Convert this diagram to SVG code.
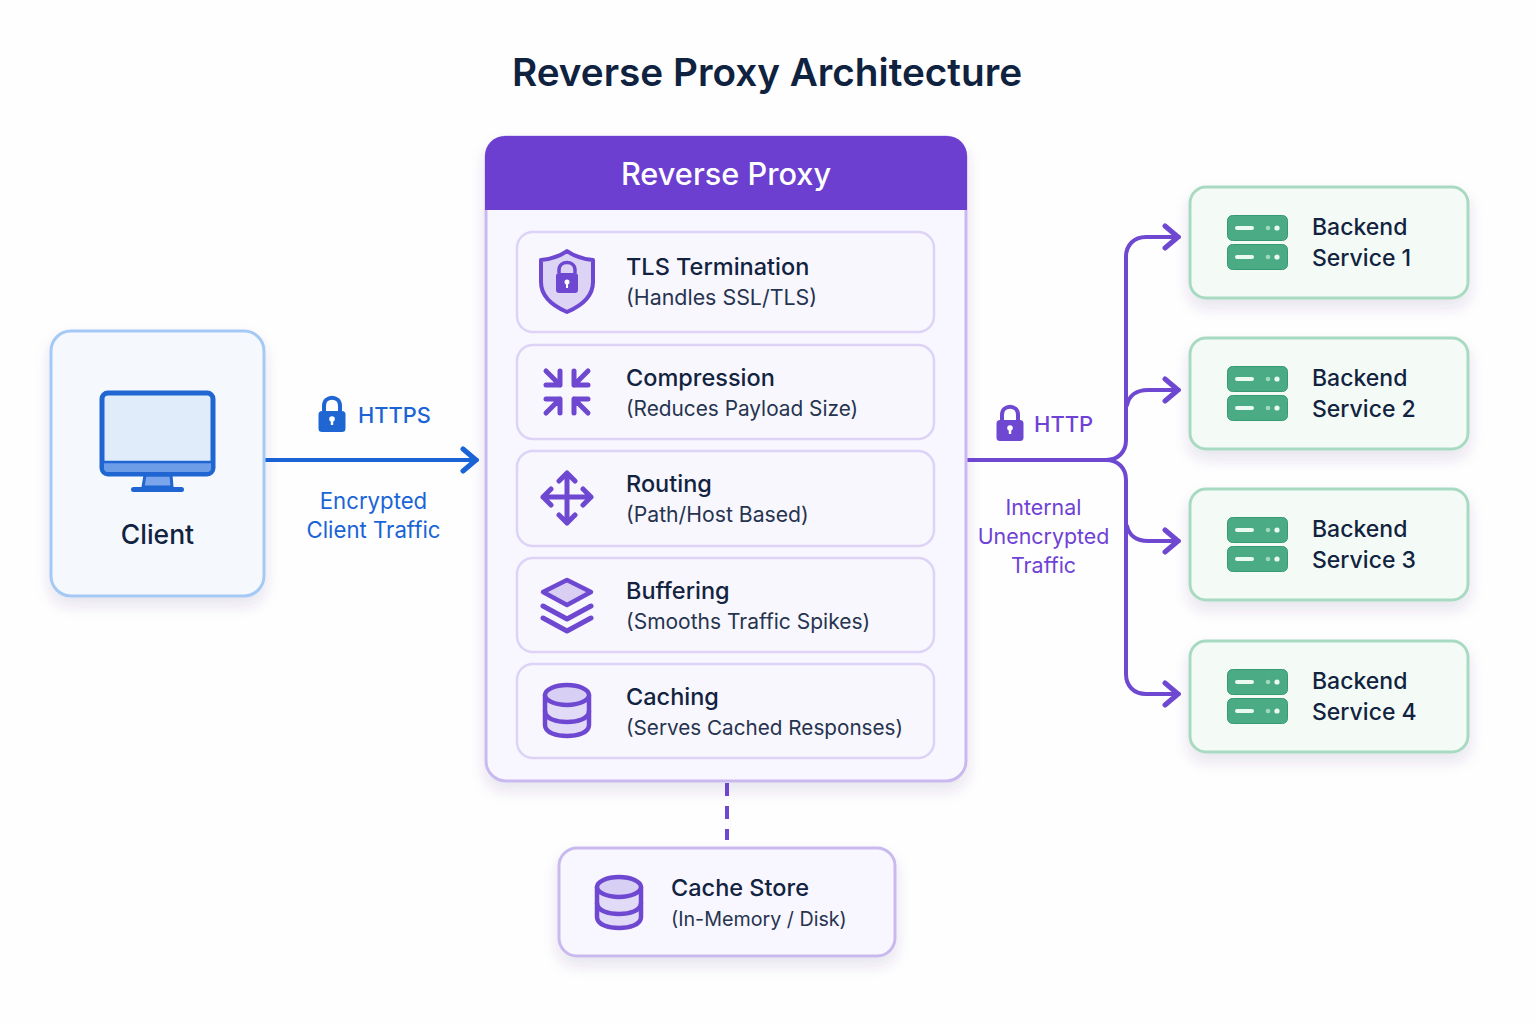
<svg xmlns="http://www.w3.org/2000/svg" width="1536" height="1024" viewBox="0 0 1536 1024">
<style>
text{font-family:Inter,"Noto Sans","Liberation Sans",sans-serif}
.title{font-size:38.7px;font-weight:600;fill:#0f2240}
.head{font-size:30.7px;font-weight:500;fill:#fff}
.t1{font-size:23.5px;font-weight:500;fill:#12233f}
.t3{font-size:23px;font-weight:500;fill:#12233f}
.t2{font-size:21px;font-weight:400;fill:#26344f}
.blue{font-size:21.8px;font-weight:500;fill:#1a64d6}
.bluel{font-size:22.2px;font-weight:400;fill:#1a64d6}
.purp{font-size:21.4px;font-weight:400;fill:#6f42d6}
.row{fill:#f9f7fe;stroke:#ddd3f6;stroke-width:2.5}
.be{fill:#f4fbf7;stroke:#a8dac1;stroke-width:3}
.ic{fill:none;stroke:#6f48d2;stroke-width:5;stroke-linecap:round;stroke-linejoin:round}
.icf{fill:#d9cff3;stroke:#6f48d2;stroke-width:5;stroke-linejoin:round}
.conn{fill:none;stroke-width:4;stroke-linecap:round;stroke-linejoin:round}
</style>
<defs>
<filter id="sh" x="-30%" y="-30%" width="160%" height="160%"><feDropShadow dx="0" dy="8" stdDeviation="7" flood-color="#4a3a80" flood-opacity="0.13"/></filter>
<g id="server">
<rect x="0.500" y="0.500" width="60" height="25" rx="5" fill="#4aab85" stroke="#379a72"/>
<rect x="0.500" y="29.500" width="60" height="25" rx="5" fill="#4aab85" stroke="#379a72"/>
<rect x="8" y="11" width="19" height="4" rx="2" fill="#eafaf2"/>
<rect x="8" y="40" width="19" height="4" rx="2" fill="#eafaf2"/>
<circle cx="41" cy="13" r="2.300" fill="#9fd8bd"/><circle cx="50" cy="13" r="2.600" fill="#eafaf2"/>
<circle cx="41" cy="42" r="2.300" fill="#9fd8bd"/><circle cx="50" cy="42" r="2.600" fill="#eafaf2"/>
</g>
<g id="db">
<path d="M-22-15V15C-22 23-10 26 0 26S22 23 22 15V-15Z" fill="#e2dbf7"/>
<path class="ic" d="M-22-15V15C-22 23-10 26 0 26S22 23 22 15V-15" style="stroke-width:4.500"/>
<path class="ic" d="M-22 1C-22 9-10 12 0 12S22 9 22 1" style="stroke-width:4.500"/>
<ellipse cx="0" cy="-15" rx="22" ry="10" fill="#d8cff4" stroke="#6f48d2" stroke-width="4.500"/>
</g>
<g id="lock">
<path d="M-8-3V-9C-8-20 8-20 8-9V-3" fill="none" stroke-width="4"/>
<rect x="-13.500" y="-4" width="27" height="21" rx="3.500" stroke="none"/>
<circle cx="0" cy="4" r="2.800" fill="#fff" stroke="none"/><rect x="-1.200" y="4" width="2.400" height="6" fill="#fff" stroke="none"/>
</g>
<marker id="ap" viewBox="0 0 20 28" refX="18" refY="14" markerWidth="20" markerHeight="28" markerUnits="userSpaceOnUse" orient="auto"><path d="M4 3L17 14L4 25" fill="none" stroke="#6f48d2" stroke-width="5" stroke-linecap="round" stroke-linejoin="round"/></marker>
<marker id="ab" viewBox="0 0 20 28" refX="18" refY="14" markerWidth="20" markerHeight="28" markerUnits="userSpaceOnUse" orient="auto"><path d="M4 3L17 14L4 25" fill="none" stroke="#1a64d6" stroke-width="5" stroke-linecap="round" stroke-linejoin="round"/></marker>
</defs>
<rect width="1536" height="1024" fill="#fefefe"/>
<text class="title" x="767" y="86" text-anchor="middle">Reverse Proxy Architecture</text>

<g id="connectors">
<path class="conn" stroke="#1a64d6" marker-end="url(#ab)" d="M266 460H477"/>
<path class="conn" stroke="#6f48d2" marker-end="url(#ap)" d="M968 460H1106C1118 460 1126 452 1126 440V257C1126 245 1134 237 1146 237H1179"/>
<path class="conn" stroke="#6f48d2" marker-end="url(#ap)" d="M1127 405C1129 396 1136 390 1148 390H1179"/>
<path class="conn" stroke="#6f48d2" marker-end="url(#ap)" d="M1106 460C1118 460 1126 468 1126 480V674C1126 686 1134 694 1146 694H1179"/>
<path class="conn" stroke="#6f48d2" marker-end="url(#ap)" d="M1127 526C1129 535 1136 541 1148 541H1179"/>
<path fill="none" stroke="#6f48d2" stroke-width="4" stroke-dasharray="13 10" d="M727 783V840"/>
</g>

<g id="client">
<rect x="51" y="331" width="213" height="265" rx="20" fill="#f5f9fe" stroke="#a5c9f5" stroke-width="3" filter="url(#sh)"/>
<path d="M145 475H171L172 487H143Z" fill="#7aa5ea" stroke="#1f66d2" stroke-width="3"/>
<rect x="131" y="487" width="53" height="5" rx="2.500" fill="#1f66d2"/>
<rect x="102" y="393" width="111" height="81" rx="6" fill="#e1ecfb" stroke="#1f66d2" stroke-width="5"/>
<path d="M104 463H211V468Q211 472 207 472H108Q104 472 104 468Z" fill="#6c9de6"/>
<path d="M102 462H213" stroke="#1f66d2" stroke-width="2.500"/>
<text class="t1" x="157.500" y="544" style="font-size:26.500px" text-anchor="middle">Client</text>
</g>

<g id="https-label">
<use href="#lock" transform="translate(332 415)" fill="#1f66d2" stroke="#1f66d2"/>
<text class="blue" x="358" y="423">HTTPS</text>
<text class="bluel" x="373.500" y="509" text-anchor="middle">Encrypted</text>
<text class="bluel" x="373.500" y="538" text-anchor="middle">Client Traffic</text>
</g>

<g id="http-label">
<use href="#lock" transform="translate(1010 424)" fill="#6f48d2" stroke="#6f48d2"/>
<text class="purp" x="1034" y="432" style="font-weight:500;font-size:22px">HTTP</text>
<text class="purp" x="1043.500" y="515" text-anchor="middle">Internal</text>
<text class="purp" x="1043.500" y="544" text-anchor="middle">Unencrypted</text>
<text class="purp" x="1043.500" y="573" text-anchor="middle">Traffic</text>
</g>

<g id="reverse-proxy">
<rect x="486" y="137" width="480" height="644" rx="20" fill="#f8f6fe" stroke="#c9b9ef" stroke-width="3" filter="url(#sh)"/>
<path d="M485 210V156A20 20 0 0 1 505 136H947A20 20 0 0 1 967 156V210Z" fill="#6c3fd0"/>
<text class="head" x="726" y="185" text-anchor="middle">Reverse Proxy</text>
</g>

<g id="tls-termination">
<rect class="row" x="517" y="232" width="417" height="100" rx="16"/>
<path d="M567 251C575 257 583 259 593 260V282C593 296 581 306 567 312C553 306 541 296 541 282V260C551 259 559 257 567 251Z" fill="#dcd3f5" stroke="#6f48d2" stroke-width="4" stroke-linejoin="round"/>
<path d="M559 273V270C559 260 575 260 575 270V273" fill="none" stroke="#6f48d2" stroke-width="3.500"/>
<rect x="556" y="273" width="22" height="20" rx="3" fill="#6f48d2"/>
<circle cx="567" cy="282" r="2.500" fill="#fff"/><rect x="566" y="282" width="2" height="6" fill="#fff"/>
<text class="t1" x="626" y="275">TLS Termination</text>
<text class="t2" x="626" y="305" style="font-size:21.400px">(Handles SSL/TLS)</text>
</g>

<g id="compression">
<rect class="row" x="517" y="345" width="417" height="94" rx="16"/>
<path class="ic" d="M546 371L560 385M546 385H560V371M588 371L574 385M588 385H574V371M546 413L560 399M546 399H560V413M588 413L574 399M588 399H574V413" style="stroke-width:5"/>
<text class="t1" x="626" y="386">Compression</text>
<text class="t2" x="626" y="416" style="font-size:20.800px">(Reduces Payload Size)</text>
</g>

<g id="routing">
<rect class="row" x="517" y="451" width="417" height="95" rx="16"/>
<path class="ic" d="M543 497H591M567 473V523M559 481L567 473L575 481M559 515L567 523L575 515M551 489L543 497L551 505M583 489L591 497L583 505"/>
<text class="t1" x="626" y="492">Routing</text>
<text class="t2" x="626" y="522" style="font-size:21.200px">(Path/Host Based)</text>
</g>

<g id="buffering">
<rect class="row" x="517" y="558" width="417" height="94" rx="16"/>
<path class="icf" d="M567 580L591 592L567 605L543 592Z" style="stroke-width:4.500"/>
<path class="ic" d="M543 606L567 619L591 606M543 618L567 631L591 618"/>
<text class="t1" x="626" y="599">Buffering</text>
<text class="t2" x="626" y="629">(Smooths Traffic Spikes)</text>
</g>

<g id="caching">
<rect class="row" x="517" y="664" width="417" height="94" rx="16"/>
<use href="#db" transform="translate(567 710)"/>
<text class="t1" x="626" y="705">Caching</text>
<text class="t2" x="626" y="735" style="font-size:20.700px">(Serves Cached Responses)</text>
</g>

<g id="backend-1">
<rect class="be" x="1190" y="187" width="278" height="111" rx="16" filter="url(#sh)"/>
<use href="#server" x="1227" y="215"/>
<text class="t3" x="1312" y="235">Backend</text>
<text class="t3" x="1312" y="265.500">Service 1</text>
</g>
<g id="backend-2">
<rect class="be" x="1190" y="338" width="278" height="111" rx="16" filter="url(#sh)"/>
<use href="#server" x="1227" y="366"/>
<text class="t3" x="1312" y="386">Backend</text>
<text class="t3" x="1312" y="416.500">Service 2</text>
</g>
<g id="backend-3">
<rect class="be" x="1190" y="489" width="278" height="111" rx="16" filter="url(#sh)"/>
<use href="#server" x="1227" y="517"/>
<text class="t3" x="1312" y="537">Backend</text>
<text class="t3" x="1312" y="567.500">Service 3</text>
</g>
<g id="backend-4">
<rect class="be" x="1190" y="641" width="278" height="111" rx="16" filter="url(#sh)"/>
<use href="#server" x="1227" y="669"/>
<text class="t3" x="1312" y="689">Backend</text>
<text class="t3" x="1312" y="719.500">Service 4</text>
</g>

<g id="cache-store">
<rect x="559" y="848" width="336" height="108" rx="18" fill="#f8f6fe" stroke="#c9b9ef" stroke-width="3" filter="url(#sh)"/>
<use href="#db" transform="translate(619 902)"/>
<text class="t1" x="671" y="896">Cache Store</text>
<text class="t2" x="671" y="926" style="font-size:19.700px">(In-Memory / Disk)</text>
</g>
</svg>
